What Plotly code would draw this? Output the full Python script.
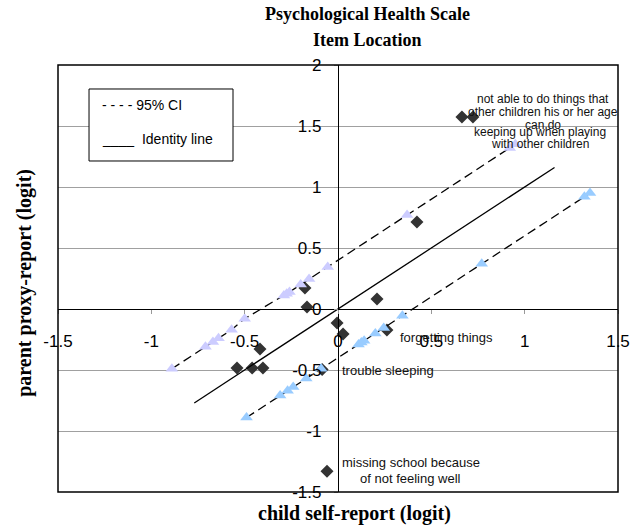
import plotly.graph_objects as go

# Item locations: child self-report (x) vs parent proxy-report (y), in logits
child_logit = [0.664, 0.723, 0.423, -0.177, -0.166, 0.027, -0.005, 0.209, 0.262,
               -0.418, -0.541, -0.460, -0.402, -0.059, -0.085]
parent_logit = [1.574, 1.574, 0.713, 0.172, 0.016, -0.205, -0.115, 0.082, -0.172,
                -0.328, -0.484, -0.484, -0.484, -1.330, -0.495]

# Upper 95% CI points
upper_ci_x = [-0.89, -0.71, -0.67, -0.64, -0.57, -0.50, -0.29, -0.275, -0.26,
              -0.20, -0.155, -0.055, 0.37, 0.92, 0.95]
upper_ci_y = [-0.49, -0.31, -0.27, -0.24, -0.17, -0.08, 0.11, 0.125, 0.14,
              0.20, 0.245, 0.345, 0.77, 1.32, 1.35]

# Lower 95% CI points
lower_ci_x = [-0.49, -0.31, -0.27, -0.24, -0.17, -0.09, 0.11, 0.125, 0.14,
              0.20, 0.245, 0.345, 0.77, 1.32, 1.35]
lower_ci_y = [-0.89, -0.71, -0.67, -0.64, -0.57, -0.49, -0.29, -0.275, -0.26,
              -0.20, -0.155, -0.055, 0.37, 0.92, 0.95]

# Identity line end points
identity_x = [-0.77, 1.16]
identity_y = [-0.77, 1.16]

# Axis ticks
x_tick_vals = [-1.5, -1.0, -0.5, 0.0, 0.5, 1.0, 1.5]
x_tick_text = ["-1.5", "-1", "-0.5", "0", "0.5", "1", "1.5"]
y_tick_vals = [-1.5, -1.0, -0.5, 0.0, 0.5, 1.0, 1.5, 2.0]
y_tick_text = ["-1.5", "-1", "-0.5", "0", "0.5", "1", "1.5", "2"]

SANS = "Liberation Sans, Arial, sans-serif"
SERIF = "Liberation Serif, Times New Roman, serif"

fig = go.Figure()

fig.add_trace(go.Scatter(
    x=child_logit, y=parent_logit, mode="markers",
    marker=dict(symbol="diamond", size=10, color="#333333"),
    name="Items", showlegend=False))

fig.add_trace(go.Scatter(
    x=identity_x, y=identity_y, mode="lines",
    line=dict(color="black", width=1.3),
    name="Identity line", showlegend=False))

fig.add_trace(go.Scatter(
    x=upper_ci_x, y=upper_ci_y, mode="lines+markers",
    line=dict(color="black", width=1.3, dash="9px,5px"),
    marker=dict(symbol="triangle-up", size=11, color="#ccccff"),
    name="Upper 95% CI", showlegend=False))

fig.add_trace(go.Scatter(
    x=lower_ci_x, y=lower_ci_y, mode="lines+markers",
    line=dict(color="black", width=1.3, dash="9px,5px"),
    marker=dict(symbol="triangle-up", size=11, color="#99ccff"),
    name="Lower 95% CI", showlegend=False))

x_min, x_max = -1.5, 1.5
y_min, y_max = -1.5, 2.0

fig.update_layout(
    width=642, height=526,
    margin=dict(l=58, r=24, t=65, b=34),
    paper_bgcolor="white", plot_bgcolor="white",
    showlegend=False,
    xaxis=dict(
        range=[x_min, x_max], anchor="free",
        position=(0 - y_min) / (y_max - y_min),
        tickvals=x_tick_vals, ticktext=x_tick_text,
        ticks="outside", ticklen=4, tickcolor="#999999",
        ticklabelstandoff=12,
        tickfont=dict(family=SANS, size=17, color="black"),
        showline=True, linecolor="black", linewidth=1.3,
        showgrid=False, zeroline=False),
    yaxis=dict(
        range=[y_min, y_max], anchor="free",
        position=(0 - x_min) / (x_max - x_min),
        tickvals=y_tick_vals, ticktext=y_tick_text,
        ticks="outside", ticklen=4, tickcolor="#999999",
        ticklabelstandoff=9,
        tickfont=dict(family=SANS, size=17, color="black"),
        showline=True, linecolor="black", linewidth=1.3,
        showgrid=True, gridcolor="#a0a0a0", gridwidth=1,
        zeroline=False),
)

# plot frame
fig.add_shape(type="rect", xref="paper", yref="paper", x0=0, y0=0, x1=1, y1=1,
              line=dict(color="black", width=1.5), layer="above")

# legend box
fig.add_shape(type="rect", xref="paper", yref="paper",
              x0=0.0554, y0=0.7752, x1=0.3125, y1=0.9438,
              line=dict(color="black", width=1), fillcolor="white", layer="above")
fig.add_annotation(xref="paper", yref="paper", x=0.075, y=0.906,
                   text="- - - - 95% CI", showarrow=False,
                   xanchor="left", yanchor="middle",
                   font=dict(family=SANS, size=14, color="black"))
fig.add_annotation(xref="paper", yref="paper", x=0.075, y=0.826,
                   text="____  Identity line", showarrow=False,
                   xanchor="left", yanchor="middle",
                   font=dict(family=SANS, size=14, color="black"))

# titles
title_font = dict(family=SERIF, size=18, color="black")
axis_title_font = dict(family=SERIF, size=20, color="black")
fig.add_annotation(xref="paper", yref="paper", x=0.552, y=1.119,
                   text="<b>Psychological Health Scale</b>", showarrow=False,
                   xanchor="center", yanchor="middle", font=title_font)
fig.add_annotation(xref="paper", yref="paper", x=0.552, y=1.058,
                   text="<b>Item Location</b>", showarrow=False,
                   xanchor="center", yanchor="middle", font=title_font)
fig.add_annotation(xref="paper", yref="paper", x=0.5286, y=-0.0492,
                   text="<b>child self-report (logit)</b>", showarrow=False,
                   xanchor="center", yanchor="middle", font=axis_title_font)
fig.add_annotation(xref="paper", yref="paper", x=-0.0589, y=0.49,
                   text="<b>parent proxy-report (logit)</b>", showarrow=False,
                   textangle=-90, xanchor="center", yanchor="middle",
                   font=axis_title_font)

# item labels
item_labels = [
    ("not able to do things that", 1.098, 1.72, "center", 12),
    ("other children his or her age", 1.098, 1.615, "center", 12),
    ("can do", 1.098, 1.508, "center", 12),
    ("keeping up when playing", 1.082, 1.451, "center", 12),
    ("with other children", 1.082, 1.352, "center", 12),
    ("forgetting things", 0.321, -0.23, "left", 13),
    ("trouble sleeping", 0.011, -0.50, "left", 13),
    ("missing school because", 0.391, -1.262, "center", 13),
    ("of not feeling well", 0.391, -1.393, "center", 13),
]
for text, lx, ly, anchor, size in item_labels:
    fig.add_annotation(x=lx, y=ly, text=text, showarrow=False,
                       xanchor=anchor, yanchor="middle",
                       font=dict(family=SANS, size=size, color="#111111"))

fig.write_html("out.html")
